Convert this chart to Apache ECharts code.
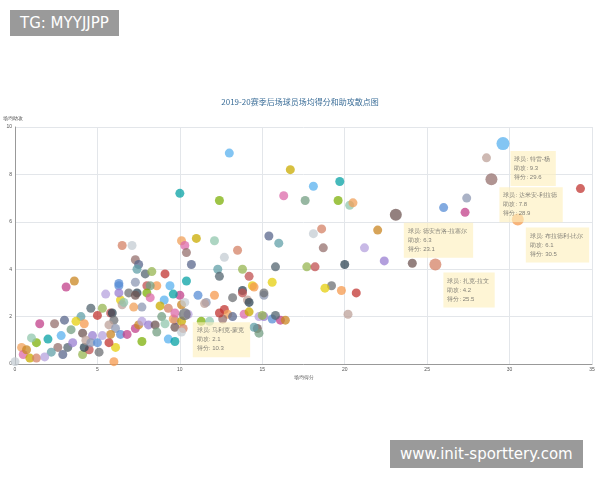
<!DOCTYPE html>
<html>
<head>
<meta charset="utf-8">
<script src="https://cdn.jsdelivr.net/npm/echarts@6/dist/echarts.min.js"></script>
<style>
html,body{margin:0;padding:0;background:#fff;}
#main{width:600px;height:480px;}
.tag{position:absolute;background:#9a9a9a;color:#fff;font-family:"DejaVu Sans";}
</style>
</head>
<body>
<div id="main"></div>
<div class="tag" style="left:10px;top:10px;padding:4px 10px;font-size:15px;">TG: MYYJJPP</div>
<div class="tag" style="left:390px;top:440px;padding:5px 10px;font-size:15px;">www.init-sporttery.com</div>
<script>
// 场均得分, 场均助攻
var points = [
[34.3,7.4],[28.6,8.7],[27.4,7.0],[26.0,6.6],[27.3,6.4],[22.0,5.65],[21.2,4.9],[22.4,4.35],[24.1,4.25],
[17.6,6.9],[18.1,7.5],[19.7,7.7],[19.6,6.9],[20.3,6.7],[20.5,6.8],[16.3,7.1],[16.7,8.2],[18.6,5.7],[18.1,5.5],
[18.7,4.9],[15.4,5.4],[16.0,5.1],[15.8,4.1],[17.7,4.1],[18.2,4.1],[20.0,4.2],[19.2,3.3],[18.8,3.2],[19.8,3.1],
[20.7,3.0],[20.2,2.1],[15.1,2.9],[15.6,1.9],[16.1,1.85],[16.4,1.85],[14.8,2.0],[15.1,2.0],[14.7,1.5],[14.8,1.3],
[13.0,8.9],[10.0,7.2],[12.4,6.9],[12.1,5.2],[10.1,5.2],[10.3,5.0],[11.0,5.3],[13.5,4.8],[12.7,4.5],[10.4,4.7],
[10.7,4.2],[12.3,4.0],[12.4,3.7],[13.8,4.0],[14.2,3.7],[13.8,3.1],[13.2,2.8],[14.4,3.3],[12.1,2.9],[12.7,2.3],
[14.1,2.7],[11.6,2.6],[11.1,2.9],[10.0,2.9],[10.1,2.5],[10.5,2.1],[9.7,1.85],[9.7,1.55],[8.9,2.0],[9.05,2.7],
[10.4,3.5],[11.3,1.8],[11.8,1.8],[12.9,2.1],[13.9,2.1],[14.2,2.2],
[6.5,5.0],[7.1,5.0],[7.3,4.4],[7.5,4.2],[7.4,4.0],[7.9,3.8],[8.3,3.9],[8.0,3.3],[7.4,3.0],[6.9,3.0],[6.4,2.7],
[8.6,3.3],[9.1,3.8],[6.5,2.5],[7.7,2.4],[6.3,3.3],
[3.1,3.25],[3.6,3.5],[5.5,2.95],[6.3,3.0],[7.3,2.9],[8.2,3.3],[9.4,3.3],[9.6,2.95],[8.0,3.0],[6.6,2.6],[7.2,2.4],
[8.2,2.8],[8.8,2.45],[9.3,2.35],[10.3,2.6],[2.4,1.7],[3.0,1.85],[4.0,2.0],[4.6,2.35],[5.3,2.35],[5.8,2.15],
[5.9,2.15],[6.0,1.85],[3.7,1.8],[4.2,1.7],[5.0,2.05],[5.7,1.65],[6.1,1.5],[6.4,1.25],[6.8,1.25],[5.8,1.25],
[5.3,1.2],[4.7,1.2],[4.1,1.3],[3.4,1.45],[2.8,1.2],[2.0,1.05],[1.3,0.9],[1.0,1.1],[0.4,0.7],[0.5,0.4],[0.9,0.25],
[1.3,0.25],[0.0,0.1],[2.6,0.7],[2.9,0.4],[2.2,0.5],[3.2,0.7],[4.1,0.4],[4.5,0.6],[4.2,0.7],[5.1,0.5],[6.1,0.7],
[6.0,0.1],[5.7,0.9],[4.3,1.0],[4.6,0.9],[5.0,0.9],[7.3,1.5],[7.5,1.65],[7.7,1.8],[8.1,1.65],[8.5,1.65],[8.6,1.35],
[9.3,1.05],[9.7,0.95],[7.7,0.95],[9.1,1.7],[9.6,1.9],[9.7,2.15],[10.1,1.8],[10.2,1.5],[10.1,1.35],[12.6,1.9],
[13.2,2.0],[14.5,1.55],[15.8,2.05],[15.0,2.05],[13.8,3.0],[14.2,2.6],[15.1,3.0],[15.6,3.45],[14.5,3.25],
[12.4,2.15],[11.5,2.55],[7.3,3.45],[6.3,3.4],[1.5,1.7],[0.7,0.6],[1.8,0.3],[3.5,0.9]
];
var labelNames = ['特雷-杨','达米安-利拉德','布拉德利-比尔','德安吉洛-拉塞尔','扎克-拉文','马利克-蒙克'];
var labelPoints = [[29.6,9.3],[28.9,7.8],[30.5,6.1],[23.1,6.3],[25.5,4.2],[10.3,2.1]];

var palette = ['#c23531','#2f4554','#61a0a8','#d48265','#91c7ae','#749f83','#ca8622','#bda29a','#6e7074',
	'#546570','#c4ccd3','#f0a05a','#5ab1ef','#b6a2de','#8d98b3','#e5cf0d','#97b552','#95706d','#dc69aa',
	'#07a2a4','#9a7fd1','#588dd5','#f5994e','#c05050','#59678c','#c9ab00','#7eb00a','#6f5553','#c14089'];

var data = points.map(function(p, i) {
	return {value: p, itemStyle: {color: palette[(i * 7) % palette.length]}};
});
labelPoints.forEach(function(p, i) {
	data.push({
		value: p,
		symbolSize: i == 0 ? 13 : 12,
		itemStyle: {color: palette[(i * 5 + 12) % palette.length]},
		label: {
			show: true,
			position: [14, 14],
			formatter: '球员: ' + labelNames[i] + '\n助攻: ' + p[1] + '\n得分: ' + p[0],
			backgroundColor: 'rgba(253,240,190,0.85)',
			color: '#555',
			fontSize: 6,
			lineHeight: 9,
			padding: [4, 6, 4, 4]
		}
	});
});

var myChart = echarts.init(document.getElementById('main'));
myChart.setOption({
	title: {
		text: '2019-20赛季后场球员场均得分和助攻散点图',
		left: 'center', top: 93,
		textStyle: {fontSize: 8, color: '#3d6f99', fontWeight: 'normal', fontFamily: 'Noto Sans CJK SC'}
	},
	grid: {left: 12, right: 8, top: 127, bottom: 116},
	xAxis: {
		type: 'value', min: 0, max: 35, interval: 5,
		name: '场均得分', nameLocation: 'middle', nameGap: 11,
		nameTextStyle: {fontSize: 5, color: '#555'},
		axisLine: {lineStyle: {color: '#999'}},
		axisTick: {show: false},
		axisLabel: {fontSize: 5, color: '#555', margin: 3},
		splitLine: {lineStyle: {color: '#e3e6ea'}}
	},
	yAxis: {
		type: 'value', min: 0, max: 10, interval: 2,
		name: '场均助攻', nameGap: 6,
		nameTextStyle: {fontSize: 5, color: '#555', align: 'left', padding: [0, 0, 0, -12]},
		axisLine: {show: true, lineStyle: {color: '#999'}},
		axisTick: {show: false},
		axisLabel: {fontSize: 5, color: '#555', margin: 3},
		splitLine: {lineStyle: {color: '#e3e6ea'}}
	},
	series: [{
		type: 'scatter',
		symbolSize: 9,
		itemStyle: {opacity: 0.75},
		data: data
	}]
});
</script>
</body>
</html>
